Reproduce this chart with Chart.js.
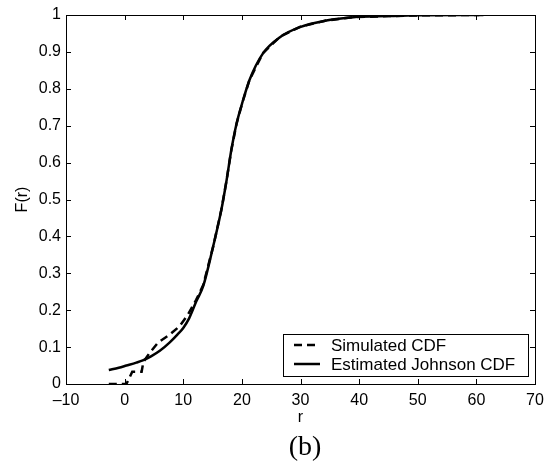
<!DOCTYPE html>
<html>
<head>
<meta charset="utf-8">
<script src="https://cdn.jsdelivr.net/npm/chart.js@4.4.1/dist/chart.umd.min.js"></script>
<style>
  html, body { margin: 0; padding: 0; background: #fff; }
  #wrap { width: 554px; height: 466px; }
</style>
</head>
<body>
<div id="wrap"><canvas id="cdf"></canvas></div>
<script>
const simR = [-2.7, 0.3, 1.3, 2.9, 3.2, 4.3, 5.7, 7.7, 9.4, 10.8, 12.2, 13.4, 15.1, 16.5, 17.4, 18.2, 19.1, 20.2, 21.3, 23.6, 26.5, 29.9, 34.4, 39, 45, 50, 60.5];
const simF = [0, 0, 0.033, 0.033, 0.06, 0.085, 0.112, 0.134, 0.157, 0.188, 0.228, 0.268, 0.372, 0.472, 0.553, 0.634, 0.706, 0.769, 0.824, 0.897, 0.941, 0.968, 0.985, 0.994, 0.997, 0.999, 1];

// fitted Johnson CDF
const johnR = [-2.7, -1, 0.3, 2, 3.1, 4.5, 6, 7.7, 9, 10, 11, 12.25, 13.4, 15.1, 16.5, 17.4, 18.2, 19.1, 20.2, 21.3, 23.6, 26.5, 29.9, 34.4, 39, 45, 50, 61.2];
const johnF = [0.038, 0.044, 0.05, 0.058, 0.064, 0.075, 0.09, 0.113, 0.134, 0.152, 0.178, 0.225, 0.265, 0.373, 0.472, 0.553, 0.634, 0.706, 0.769, 0.824, 0.896, 0.94, 0.967, 0.985, 0.994, 0.997, 0.999, 1];

const xTicks = [-10, 0, 10, 20, 30, 40, 50, 60, 70];
const yTicks = [0, 0.1, 0.2, 0.3, 0.4, 0.5, 0.6, 0.7, 0.8, 0.9, 1];

const FONT = 'Liberation Sans, Arial, sans-serif';

const toPts = (xs, ys) => xs.map((x, i) => ({ x: x, y: ys[i] }));

// matlab-ish box with inward ticks on all four sides
const boxPlugin = {
  id: 'box',
  afterDraw(chart) {
    const { ctx, chartArea: a, scales } = chart;
    ctx.save();
    ctx.strokeStyle = '#000';
    ctx.lineWidth = 1;
    ctx.strokeRect(Math.round(a.left) + 0.5, Math.round(a.top) + 0.5,
      Math.round(a.right - a.left), Math.round(a.bottom - a.top));
    ctx.beginPath();
    xTicks.forEach(v => {
      const px = Math.round(scales.x.getPixelForValue(v)) + 0.5;
      ctx.moveTo(px, a.bottom); ctx.lineTo(px, a.bottom - 5);
      ctx.moveTo(px, a.top); ctx.lineTo(px, a.top + 5);
    });
    yTicks.forEach(v => {
      const py = Math.round(scales.y.getPixelForValue(v)) + 0.5;
      ctx.moveTo(a.left, py); ctx.lineTo(a.left + 5, py);
      ctx.moveTo(a.right, py); ctx.lineTo(a.right - 5, py);
    });
    ctx.stroke();

    // legend, bottom right inside the axes
    const lx = 283, ly = 334, lw = 245, lh = 42;
    ctx.fillStyle = '#fff';
    ctx.fillRect(lx, ly, lw, lh);
    ctx.lineWidth = 1;
    ctx.strokeRect(lx + 0.5, ly + 0.5, lw, lh);
    ctx.font = '17px ' + FONT;
    ctx.textBaseline = 'middle';
    chart.data.datasets.forEach((ds, i) => {
      const yy = ly + 11 + i * 19;
      ctx.strokeStyle = '#000';
      ctx.lineWidth = 2.5;
      ctx.setLineDash(ds.borderDash || []);
      ctx.beginPath();
      ctx.moveTo(lx + 11, yy); ctx.lineTo(lx + 37, yy);
      ctx.stroke();
      ctx.setLineDash([]);
      ctx.fillStyle = '#000';
      ctx.fillText(ds.label, lx + 48, yy + 1);
    });

    ctx.font = '28px Liberation Serif, Times New Roman, serif';
    ctx.textAlign = 'center';
    ctx.textBaseline = 'alphabetic';
    ctx.fillText('(b)', 305, 455);
    ctx.restore();
  }
};

new Chart(document.getElementById('cdf'), {
  type: 'scatter',
  data: {
    datasets: [
      {
        label: 'Simulated CDF',
        data: toPts(simR, simF),
        showLine: true,
        borderColor: '#000',
        borderWidth: 2.5,
        borderDash: [8, 5],
        pointRadius: 0,
        tension: 0,
      },
      {
        label: 'Estimated Johnson CDF',
        data: toPts(johnR, johnF),
        showLine: true,
        borderColor: '#000',
        borderWidth: 2.5,
        pointRadius: 0,
        cubicInterpolationMode: 'monotone',
      },
    ],
  },
  options: {
    responsive: true,
    maintainAspectRatio: false,
    animation: false,
    layout: { padding: { top: 15, right: 19, bottom: 36, left: 13 } },
    scales: {
      x: {
        type: 'linear',
        min: -10,
        max: 70,
        afterBuildTicks: s => { s.ticks = xTicks.map(v => ({ value: v })); },
        afterFit: s => { s.height = 46; },
        grid: { display: false, drawTicks: false },
        border: { display: false },
        ticks: {
          color: '#000',
          padding: 7,
          font: { family: FONT, size: 16 },
          maxRotation: 0,
          callback: v => (v < 0 ? '\u2013' + Math.abs(v) : String(v)),
        },
        title: {
          display: true,
          text: 'r',
          color: '#000',
          padding: { top: 0, bottom: 3 },
          font: { family: FONT, size: 16 },
        },
      },
      y: {
        min: 0,
        max: 1,
        afterBuildTicks: s => { s.ticks = yTicks.map(v => ({ value: v })); },
        afterFit: s => { s.width = 53; },
        grid: { display: false, drawTicks: false },
        border: { display: false },
        ticks: {
          color: '#000',
          padding: 5,
          font: { family: FONT, size: 16 },
          callback: v => String(+v.toFixed(1)),
        },
        title: {
          display: true,
          text: 'F(r)',
          color: '#000',
          padding: { top: 0, bottom: 0 },
          font: { family: FONT, size: 16 },
        },
      },
    },
    plugins: {
      legend: { display: false },
      tooltip: { enabled: false },
    },
  },
  plugins: [boxPlugin],
});
</script>
</body>
</html>
